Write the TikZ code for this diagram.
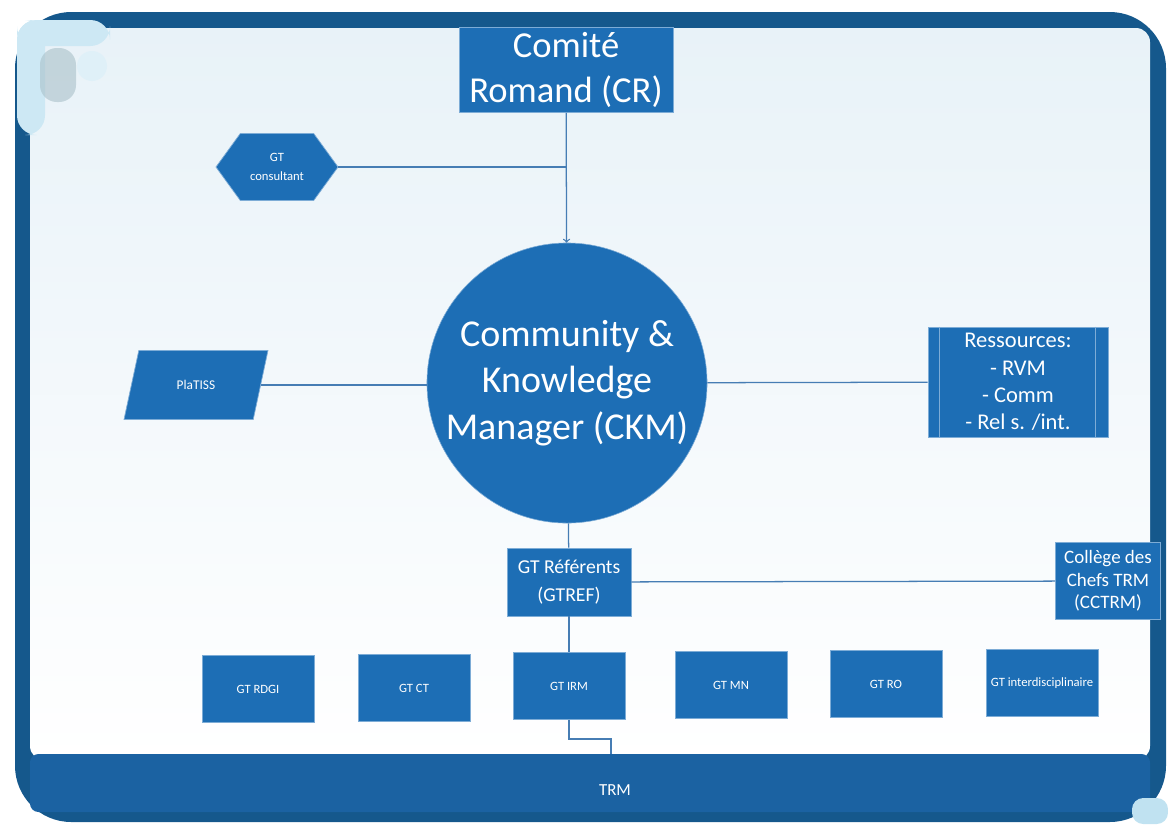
\documentclass[tikz,border=0pt]{standalone}
\usepackage{fontspec}
\setmainfont{Carlito}
\usepackage{xcolor}
\usetikzlibrary{shapes.geometric,shapes.symbols}
\definecolor{boxblue}{RGB}{29,110,181}
\definecolor{edgeblue}{RGB}{125,172,214}
\definecolor{frameblue}{RGB}{21,88,140}
\definecolor{bandblue}{RGB}{27,98,162}
\definecolor{lineblue}{RGB}{70,125,180}
\definecolor{paleblue}{RGB}{192,226,241}
\definecolor{mistblue}{RGB}{232,242,248}

\begin{document}
\begin{tikzpicture}[x=0.025cm,y=-0.025cm,
    box/.style={rectangle,fill=boxblue,draw=edgeblue,line width=0.5pt,text=white,align=center,inner sep=0pt},
    gt/.style={box,minimum width=2.8cm,minimum height=1.675cm,font=\fontsize{9}{11}\selectfont},
    link/.style={draw=lineblue,line width=0.9pt}]
        \useasboundingbox (0,0) rectangle (1168,824);
        % frame and background
        \fill[frameblue,rounded corners=40] (15,12) rectangle (1166,822);
        \shade[top color=mistblue,bottom color=white,rounded corners=10] (30,28) rectangle (1150,760);
        \fill[paleblue!80,rounded corners=14] (17,20) rectangle (110,46);
        \fill[paleblue!80,rounded corners=14] (17,20) rectangle (45,135);
        \fill[gray!35!paleblue,opacity=0.6,rounded corners=12] (40,48) rectangle (76,102);
        \fill[paleblue!50] (92,66) circle (15);
        \fill[bandblue,rounded corners=6] (30,754) rectangle (1150,812);
        \fill[paleblue,rounded corners=8] (1132,798) rectangle (1168,824);
        \node[text=white,font=\fontsize{12}{14}\selectfont] (trm) at (615,790) {TRM};
        \coordinate (trmtop) at (611,754);

        \node[box,minimum width=5.35cm,minimum height=2.125cm,font=\fontsize{26}{32}\selectfont] (cr) at (566,70) {Comité\\Romand (CR)};
        \node[circle,fill=boxblue,draw=edgeblue,text=white,align=center,minimum size=7cm,inner sep=0pt,font=\fontsize{27}{33}\selectfont] (ckm) at (567,383) {Community \&\\Knowledge\\Manager (CKM)};
        \node[box,signal,signal to=east and west,signal pointer angle=108,minimum width=3.05cm,minimum height=1.675cm,font=\fontsize{9}{13}\selectfont] (cons) at (277,167) {GT\\consultant};
        \node[box,trapezium,trapezium left angle=62,trapezium right angle=118,trapezium stretches=true,minimum width=3.6cm,minimum height=1.725cm,font=\fontsize{9.5}{11}\selectfont] (platiss) at (196,385) {PlaTISS};
        \node[box,minimum width=4.5cm,minimum height=2.75cm,font=\fontsize{16}{19.5}\selectfont] (res) at (1018,382) {Ressources:\\- RVM\\- Comm\\- Rel s. /int.};
        \draw[edgeblue] ([xshift=0.3cm]res.north west) -- ([xshift=0.3cm]res.south west);
        \draw[edgeblue] ([xshift=-0.32cm]res.north east) -- ([xshift=-0.32cm]res.south east);
        \node[box,minimum width=3.1cm,minimum height=1.7cm,font=\fontsize{14}{20}\selectfont] (gtref) at (569,582) {GT Référents\\(GTREF)};
        \node[box,minimum width=2.625cm,minimum height=1.925cm,font=\fontsize{13.5}{16}\selectfont] (cctrm) at (1108,581) {Collège des\\Chefs TRM\\(CCTRM)};

        \node[gt] (rdgi) at (258,689) {GT RDGI};
        \node[gt] (ct) at (414,688) {GT CT};
        \node[gt] (irm) at (569,686) {GT IRM};
        \node[gt] (mn) at (731,685) {GT MN};
        \node[gt] (ro) at (886,684) {GT RO};
        \node[gt] (inter) at (1042,683) {GT interdisciplinaire};

        \draw[link,->] (cr) -- (ckm);
        \draw[link] (cons.east) -- (cons.east -| cr.south);
        \draw[link] (platiss.east) -- (platiss.east -| ckm.west);
        \draw[link] (ckm) -- (res);
        \draw[link] (ckm) -- (gtref);
        \draw[link] (gtref) -- (cctrm);
        \draw[link] (gtref) -- (irm);
        \draw[link] (irm.south) -- ++(0,19) -| (trmtop);
    \end{tikzpicture}
\end{document}
